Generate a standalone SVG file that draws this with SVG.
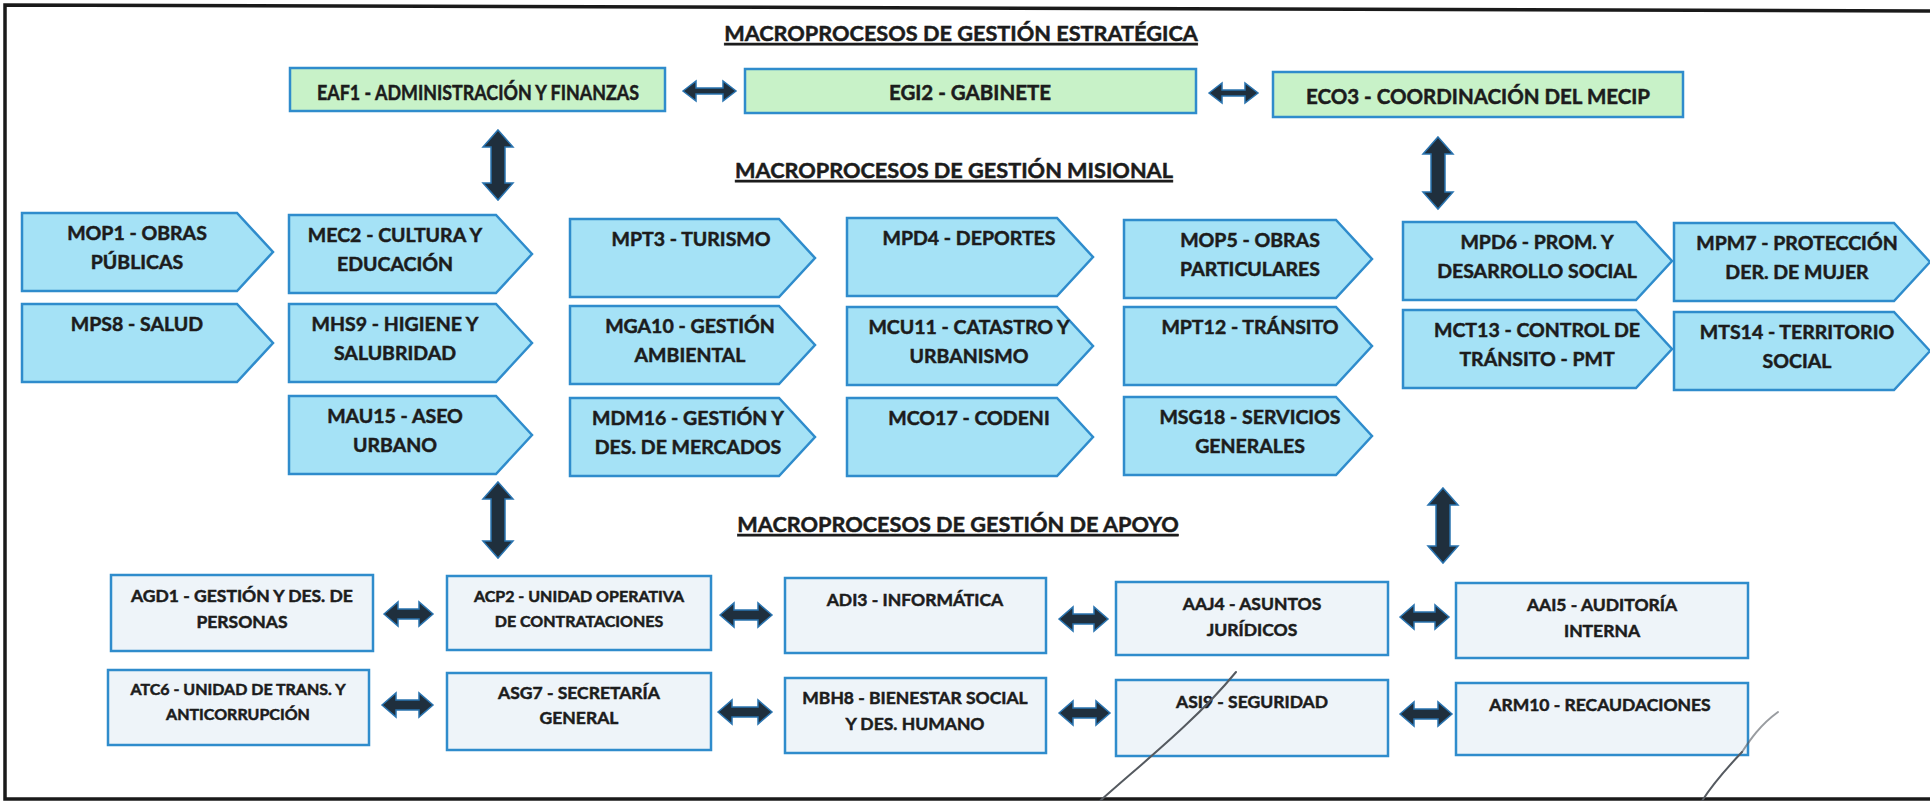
<svg xmlns="http://www.w3.org/2000/svg" width="1930" height="801" viewBox="0 0 1930 801">
<style>
text{font-family:Lato,"Liberation Sans",sans-serif;font-weight:700;fill:#1c1c1c;stroke:#1c1c1c;stroke-width:0.5;text-anchor:middle}
.title{font-size:21.7px;text-decoration:underline}
.st{font-size:20.5px}
.mi{font-size:19.5px}
.ap{font-size:17.5px}
.aps{font-size:16px}
.green{fill:#c8f2c8;stroke:#2f8ccc;stroke-width:2.5}
.blue{fill:#a5e2f6;stroke:#2f8ccc;stroke-width:2.5;stroke-linejoin:miter}
.gray{fill:#eef4f9;stroke:#2f8ccc;stroke-width:2.5}
.arr{fill:#1f2f3d;stroke:#2a74b0;stroke-width:1.5;stroke-linejoin:miter}
.frame{fill:none;stroke:#1a1a1a;stroke-width:3.5}
.sig{fill:none;stroke:#555a60;stroke-width:2;stroke-linecap:round}
</style>
<rect width="1930" height="801" fill="#ffffff"/>
<path class="frame" d="M1930,11 L5,5 L5,799 L1930,799"/>

<g id="titles">
<text class="title" x="961" y="41">MACROPROCESOS DE GESTIÓN ESTRATÉGICA</text>
<text class="title" x="954" y="178">MACROPROCESOS DE GESTIÓN MISIONAL</text>
<text class="title" x="958" y="532">MACROPROCESOS DE GESTIÓN DE APOYO</text>
</g>

<!-- Strategic -->
<g id="EAF1"><rect class="green" x="290" y="68" width="375" height="43"/><text class="st" x="478" y="100" textLength="322" lengthAdjust="spacingAndGlyphs">EAF1 - ADMINISTRACIÓN Y FINANZAS</text></g>
<g id="EGI2"><rect class="green" x="745" y="69" width="451" height="44"/><text class="st" x="970" y="100">EGI2 - GABINETE</text></g>
<g id="ECO3"><rect class="green" x="1273" y="72" width="410" height="45"/><text class="st" x="1478" y="104">ECO3 - COORDINACIÓN DEL MECIP</text></g>

<!-- Misional row 1 -->
<g id="MOP1"><path class="blue" d="M22,213 H237 L273,252 L237,291 H22 Z"/><text class="mi" x="137" y="240">MOP1 - OBRAS</text><text class="mi" x="137" y="269">PÚBLICAS</text></g>
<g id="MEC2"><path class="blue" d="M289,215 H496 L532,254 L496,293 H289 Z"/><text class="mi" x="395" y="242">MEC2 - CULTURA Y</text><text class="mi" x="395" y="271">EDUCACIÓN</text></g>
<g id="MPT3"><path class="blue" d="M570,219 H779 L815,258 L779,297 H570 Z"/><text class="mi" x="691" y="246">MPT3 - TURISMO</text></g>
<g id="MPD4"><path class="blue" d="M847,218 H1057 L1093,257 L1057,296 H847 Z"/><text class="mi" x="969" y="245">MPD4 - DEPORTES</text></g>
<g id="MOP5"><path class="blue" d="M1124,220 H1336 L1372,259 L1336,298 H1124 Z"/><text class="mi" x="1250" y="247">MOP5 - OBRAS</text><text class="mi" x="1250" y="276">PARTICULARES</text></g>
<g id="MPD6"><path class="blue" d="M1403,222 H1636 L1672,261 L1636,300 H1403 Z"/><text class="mi" x="1537" y="249">MPD6 - PROM. Y</text><text class="mi" x="1537" y="278">DESARROLLO SOCIAL</text></g>
<g id="MPM7"><path class="blue" d="M1674,223 H1894 L1930,262 L1894,301 H1674 Z"/><text class="mi" x="1797" y="250">MPM7 - PROTECCIÓN</text><text class="mi" x="1797" y="279">DER. DE MUJER</text></g>

<!-- Misional row 2 -->
<g id="MPS8"><path class="blue" d="M22,304 H237 L273,343 L237,382 H22 Z"/><text class="mi" x="137" y="331">MPS8 - SALUD</text></g>
<g id="MHS9"><path class="blue" d="M289,304 H496 L532,343 L496,382 H289 Z"/><text class="mi" x="395" y="331">MHS9 - HIGIENE Y</text><text class="mi" x="395" y="360">SALUBRIDAD</text></g>
<g id="MGA10"><path class="blue" d="M570,306 H779 L815,345 L779,384 H570 Z"/><text class="mi" x="690" y="333">MGA10 - GESTIÓN</text><text class="mi" x="690" y="362">AMBIENTAL</text></g>
<g id="MCU11"><path class="blue" d="M847,307 H1057 L1093,346 L1057,385 H847 Z"/><text class="mi" x="969" y="334">MCU11 - CATASTRO Y</text><text class="mi" x="969" y="363">URBANISMO</text></g>
<g id="MPT12"><path class="blue" d="M1124,307 H1336 L1372,346 L1336,385 H1124 Z"/><text class="mi" x="1250" y="334">MPT12 - TRÁNSITO</text></g>
<g id="MCT13"><path class="blue" d="M1403,310 H1636 L1672,349 L1636,388 H1403 Z"/><text class="mi" x="1537" y="337">MCT13 - CONTROL DE</text><text class="mi" x="1537" y="366">TRÁNSITO - PMT</text></g>
<g id="MTS14"><path class="blue" d="M1674,312 H1894 L1930,351 L1894,390 H1674 Z"/><text class="mi" x="1797" y="339">MTS14 - TERRITORIO</text><text class="mi" x="1797" y="368">SOCIAL</text></g>

<!-- Misional row 3 -->
<g id="MAU15"><path class="blue" d="M289,396 H496 L532,435 L496,474 H289 Z"/><text class="mi" x="395" y="423">MAU15 - ASEO</text><text class="mi" x="395" y="452">URBANO</text></g>
<g id="MDM16"><path class="blue" d="M570,398 H779 L815,437 L779,476 H570 Z"/><text class="mi" x="688" y="425">MDM16 - GESTIÓN Y</text><text class="mi" x="688" y="454">DES. DE MERCADOS</text></g>
<g id="MCO17"><path class="blue" d="M847,398 H1057 L1093,437 L1057,476 H847 Z"/><text class="mi" x="969" y="425">MCO17 - CODENI</text></g>
<g id="MSG18"><path class="blue" d="M1124,397 H1336 L1372,436 L1336,475 H1124 Z"/><text class="mi" x="1250" y="424">MSG18 - SERVICIOS</text><text class="mi" x="1250" y="453">GENERALES</text></g>

<!-- Apoyo row 1 -->
<g id="AGD1"><rect class="gray" x="111" y="575" width="262" height="76"/><text class="ap" x="242" y="602">AGD1 - GESTIÓN Y DES. DE</text><text class="ap" x="242" y="628">PERSONAS</text></g>
<g id="ACP2"><rect class="gray" x="447" y="576" width="264" height="74"/><text class="aps" x="579" y="602">ACP2 - UNIDAD OPERATIVA</text><text class="aps" x="579" y="627">DE CONTRATACIONES</text></g>
<g id="ADI3"><rect class="gray" x="785" y="578" width="261" height="75"/><text class="ap" x="915" y="606">ADI3 - INFORMÁTICA</text></g>
<g id="AAJ4"><rect class="gray" x="1116" y="582" width="272" height="73"/><text class="ap" x="1252" y="610">AAJ4 - ASUNTOS</text><text class="ap" x="1252" y="636">JURÍDICOS</text></g>
<g id="AAI5"><rect class="gray" x="1456" y="583" width="292" height="75"/><text class="ap" x="1602" y="611">AAI5 - AUDITORÍA</text><text class="ap" x="1602" y="637">INTERNA</text></g>

<!-- Apoyo row 2 -->
<g id="ATC6"><rect class="gray" x="108" y="670" width="261" height="75"/><text class="aps" x="238" y="695">ATC6 - UNIDAD DE TRANS. Y</text><text class="aps" x="238" y="720">ANTICORRUPCIÓN</text></g>
<g id="ASG7"><rect class="gray" x="447" y="673" width="264" height="77"/><text class="ap" x="579" y="699">ASG7 - SECRETARÍA</text><text class="ap" x="579" y="724">GENERAL</text></g>
<g id="MBH8"><rect class="gray" x="785" y="678" width="261" height="75"/><text class="ap" x="915" y="704">MBH8 - BIENESTAR SOCIAL</text><text class="ap" x="915" y="730">Y DES. HUMANO</text></g>
<g id="ASI9"><rect class="gray" x="1116" y="680" width="272" height="76"/><text class="ap" x="1252" y="708">ASI9 - SEGURIDAD</text></g>
<g id="ARM10"><rect class="gray" x="1456" y="683" width="292" height="72"/><text class="ap" x="1600" y="711">ARM10 - RECAUDACIONES</text></g>

<g id="connectors">
<!-- strategic horizontal -->
<path class="arr" d="M683,91 l13,-10 v7 h27 v-7 l13,10 l-13,10 v-7 h-27 v7 z"/>
<path class="arr" d="M1209,93 l13,-10 v7 h23 v-7 l13,10 l-13,10 v-7 h-23 v7 z"/>
<!-- vertical -->
<path class="arr" d="M498,130 l15,17 h-8 v36 h8 l-15,17 l-15,-17 h8 v-36 h-8 z"/>
<path class="arr" d="M1438,137 l15,17 h-8 v38 h8 l-15,17 l-15,-17 h8 v-38 h-8 z"/>
<path class="arr" d="M498,482 l15,17 h-8 v42 h8 l-15,17 l-15,-17 h8 v-42 h-8 z"/>
<path class="arr" d="M1443,488 l15,17 h-8 v41 h8 l-15,17 l-15,-17 h8 v-41 h-8 z"/>
<!-- apoyo row 1 -->
<path class="arr" d="M384,614 l14,-12 v7 h21 v-7 l14,12 l-14,12 v-7 h-21 v7 z"/>
<path class="arr" d="M720,615 l14,-12 v7 h24 v-7 l14,12 l-14,12 v-7 h-24 v7 z"/>
<path class="arr" d="M1059,619 l14,-12 v7 h21 v-7 l14,12 l-14,12 v-7 h-21 v7 z"/>
<path class="arr" d="M1400,617 l14,-12 v7 h21 v-7 l14,12 l-14,12 v-7 h-21 v7 z"/>
<!-- apoyo row 2 -->
<path class="arr" d="M382,705 l14,-12 v7 h23 v-7 l14,12 l-14,12 v-7 h-23 v7 z"/>
<path class="arr" d="M718,712 l14,-12 v7 h26 v-7 l14,12 l-14,12 v-7 h-26 v7 z"/>
<path class="arr" d="M1059,713 l14,-12 v7 h23 v-7 l14,12 l-14,12 v-7 h-23 v7 z"/>
<path class="arr" d="M1400,714 l14,-12 v7 h24 v-7 l14,12 l-14,12 v-7 h-24 v7 z"/>
</g>

<path class="sig" d="M1236,672 C1195,722 1140,765 1100,801"/>
<path class="sig" stroke-opacity="0.6" d="M1778,712 C1760,725 1750,740 1742,752"/>
<path class="sig" d="M1742,752 C1725,770 1712,785 1702,801"/>
</svg>
